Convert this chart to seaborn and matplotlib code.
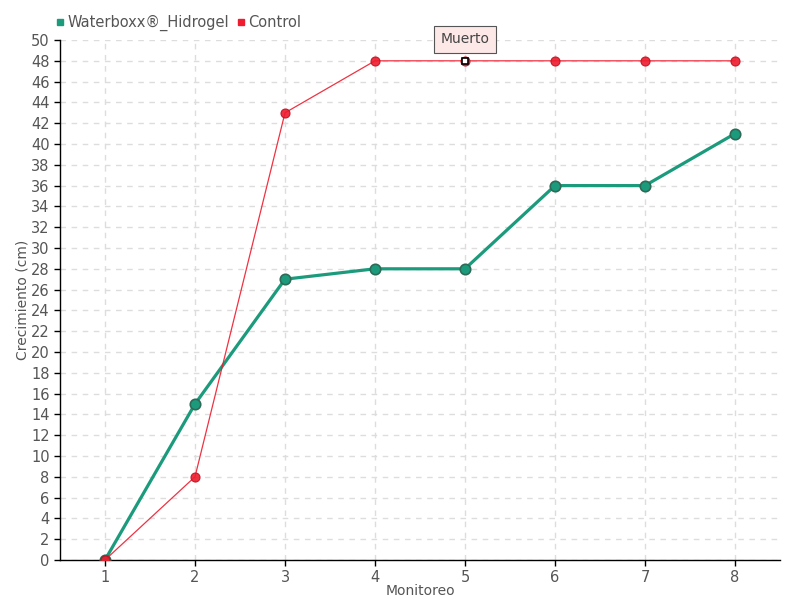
import matplotlib
matplotlib.use("Agg")
import matplotlib.pyplot as plt
import seaborn as sns
import pandas as pd
from matplotlib.lines import Line2D

monitoreo = [1, 2, 3, 4, 5, 6, 7, 8]
waterboxx = [0, 15, 27, 28, 28, 36, 36, 41]
control = [0, 8, 43, 48, 48, 48, 48, 48]
yticks = list(range(0, 52, 2))

sns.set_theme(style="white")
plt.rcParams['font.family'] = ['DejaVu Sans']

green = "#1b9b7c"
green_edge = "#2d6b57"
red = "#ee1c2e"
txt = "#555555"

df = pd.DataFrame({"Monitoreo": monitoreo * 2,
                   "Crecimiento": waterboxx + control,
                   "Serie": ["Waterboxx®_Hidrogel"] * 8 + ["Control"] * 8})

fig = plt.figure(figsize=(8, 6), dpi=100)
ax = fig.add_axes([0.075, 0.0667, 0.9, 0.8666])

sns.lineplot(data=df[df.Serie == "Waterboxx®_Hidrogel"], x="Monitoreo", y="Crecimiento",
             ax=ax, color=green, lw=2.3, marker="o", markersize=7.5,
             markerfacecolor=green, markeredgecolor=green_edge, markeredgewidth=1.2,
             legend=False, zorder=3)
sns.lineplot(data=df[df.Serie == "Control"], x="Monitoreo", y="Crecimiento",
             ax=ax, color=red, lw=0.9, marker="o", markersize=6.5,
             markerfacecolor=red, markeredgecolor="#c0101f", markeredgewidth=0.8,
             legend=False, zorder=4, alpha=0.9)

# highlighted point
ax.plot([monitoreo[4]], [control[4]], marker="s", ms=5, mfc="white", mec="black",
        mew=1.2, zorder=6, linestyle="none")
ax.annotate("Muerto", xy=(monitoreo[4], control[4]), xytext=(0, 15.5),
            textcoords="offset points", ha="center", va="center",
            fontsize=10, color="#444444",
            bbox=dict(boxstyle="square,pad=0.45", fc="#fde8e8", ec="#555555", lw=0.8),
            zorder=7)

ax.set_xlim(0.5, 8.5)
ax.set_ylim(0, 50)
ax.set_xticks(monitoreo)
ax.set_yticks(yticks)
ax.tick_params(axis="both", labelsize=10.5, colors=txt, length=4, width=1,
               direction="out", left=True, bottom=True)
ax.tick_params(axis="both", color="black")
ax.grid(True, linestyle=(0, (4, 4)), color="#dddddd", lw=1)
for s in ["top", "right"]:
    ax.spines[s].set_visible(False)
for s in ["left", "bottom"]:
    ax.spines[s].set_color("black")
    ax.spines[s].set_linewidth(1)

ax.set_xlabel("Monitoreo", fontsize=10, color=txt, labelpad=-1)
ax.set_ylabel("Crecimiento (cm)", fontsize=10, color=txt, labelpad=1)

handles = [Line2D([], [], marker="s", ls="none", color=green, ms=5),
           Line2D([], [], marker="s", ls="none", color=red, ms=5)]
fig.legend(handles, ["Waterboxx®_Hidrogel", "Control"], loc="upper left",
           bbox_to_anchor=(0.05, 0.997), ncol=2, frameon=False, fontsize=10.5,
           handletextpad=0.0, columnspacing=0.3, labelcolor=txt, handlelength=1.0)

fig.savefig("out.png", dpi=100)
